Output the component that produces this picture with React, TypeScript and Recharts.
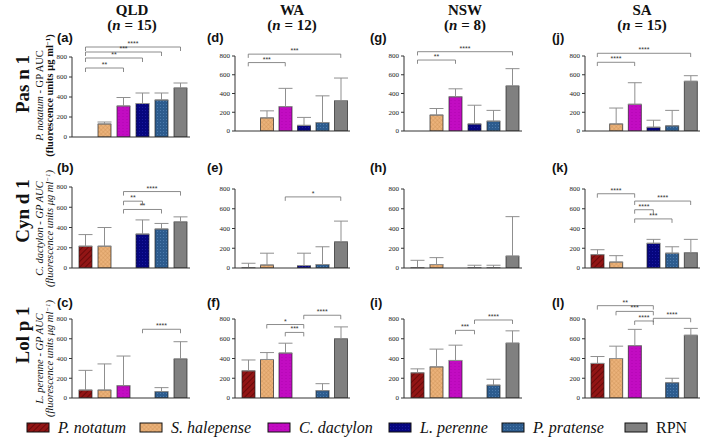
import React from 'react'
import { BarChart, Bar, XAxis, YAxis, Cell, ErrorBar, ReferenceLine } from 'recharts'

// ── Data ──────────────────────────────────────────────────────────────────────

const SPECIES = ['P. notatum', 'S. halepense', 'C. dactylon', 'L. perenne', 'P. pratense', 'RPN']
const CATEGORIES = ['c0', 'c1', 'c2', 'c3', 'c4', 'c5']
const REGIONS = ['QLD', 'WA', 'NSW', 'SA']
const REGION_N = [15, 12, 8, 15]
const ALLERGENS = ['Pas n 1', 'Cyn d 1', 'Lol p 1']
const ALLERGEN_SOURCE = ['P. notatum', 'C. dactylon', 'L. perenne']
const Y_TICKS = [0, 200, 400, 600, 800]

// Pas n 1
const PAS_QLD_MEAN = [0, 130, 310, 335, 370, 490]
const PAS_QLD_SD = [0, 20, 85, 105, 70, 50]
const PAS_WA_MEAN = [0, 140, 260, 60, 90, 325]
const PAS_WA_SD = [0, 75, 195, 85, 285, 240]
const PAS_NSW_MEAN = [0, 170, 365, 75, 105, 480]
const PAS_NSW_SD = [0, 70, 85, 200, 115, 185]
const PAS_SA_MEAN = [0, 75, 285, 40, 55, 530]
const PAS_SA_SD = [0, 170, 230, 75, 165, 60]

// Cyn d 1
const CYN_QLD_MEAN = [215, 215, 0, 335, 385, 455]
const CYN_QLD_SD = [115, 185, 0, 140, 55, 50]
const CYN_WA_MEAN = [3, 30, 0, 25, 35, 265]
const CYN_WA_SD = [45, 120, 0, 125, 180, 210]
const CYN_NSW_MEAN = [3, 35, 0, 3, 3, 120]
const CYN_NSW_SD = [75, 70, 0, 25, 25, 400]
const CYN_SA_MEAN = [135, 60, 0, 250, 150, 155]
const CYN_SA_SD = [50, 65, 0, 40, 65, 135]

// Lol p 1
const LOL_QLD_MEAN = [80, 80, 125, 0, 65, 395]
const LOL_QLD_SD = [200, 265, 300, 0, 40, 175]
const LOL_WA_MEAN = [275, 390, 455, 0, 75, 600]
const LOL_WA_SD = [110, 70, 100, 0, 70, 120]
const LOL_NSW_MEAN = [255, 315, 380, 0, 130, 555]
const LOL_NSW_SD = [40, 180, 155, 0, 60, 125]
const LOL_SA_MEAN = [350, 400, 530, 0, 155, 635]
const LOL_SA_SD = [70, 125, 165, 0, 45, 70]

// significance brackets: [from, to, level, stars]
type Sig = [number, number, number, string]
const PAS_QLD_SIG: Sig[] = [[0, 2, 690, '**'], [0, 3, 790, '**'], [0, 4, 850, '***'], [0, 5, 900, '****']]
const PAS_WA_SIG: Sig[] = [[0, 2, 730, '***'], [0, 5, 820, '***']]
const PAS_NSW_SIG: Sig[] = [[0, 2, 757, '**'], [0, 5, 846, '****']]
const PAS_SA_SIG: Sig[] = [[0, 2, 733, '****'], [0, 5, 829, '****']]
const CYN_QLD_SIG: Sig[] = [[2, 4, 578, '**'], [2, 3, 660, '**'], [2, 5, 755, '****']]
const CYN_WA_SIG: Sig[] = [[2, 5, 720, '*']]
const CYN_NSW_SIG: Sig[] = []
const CYN_SA_SIG: Sig[] = [[0, 2, 752, '****'], [2, 5, 678, '****'], [2, 3, 590, '****'], [2, 4, 497, '***']]
const LOL_QLD_SIG: Sig[] = [[3, 5, 696, '****']]
const LOL_WA_SIG: Sig[] = [[1, 3, 744, '*'], [2, 3, 664, '***'], [3, 5, 838, '****']]
const LOL_NSW_SIG: Sig[] = [[2, 3, 685, '***'], [3, 5, 790, '****']]
const LOL_SA_SIG: Sig[] = [[0, 3, 935, '**'], [1, 3, 877, '***'], [2, 3, 780, '****'], [3, 5, 807, '****']]

const GRID = [
  [
    { letter: 'a', mean: PAS_QLD_MEAN, sd: PAS_QLD_SD, sig: PAS_QLD_SIG },
    { letter: 'd', mean: PAS_WA_MEAN, sd: PAS_WA_SD, sig: PAS_WA_SIG },
    { letter: 'g', mean: PAS_NSW_MEAN, sd: PAS_NSW_SD, sig: PAS_NSW_SIG },
    { letter: 'j', mean: PAS_SA_MEAN, sd: PAS_SA_SD, sig: PAS_SA_SIG },
  ],
  [
    { letter: 'b', mean: CYN_QLD_MEAN, sd: CYN_QLD_SD, sig: CYN_QLD_SIG },
    { letter: 'e', mean: CYN_WA_MEAN, sd: CYN_WA_SD, sig: CYN_WA_SIG },
    { letter: 'h', mean: CYN_NSW_MEAN, sd: CYN_NSW_SD, sig: CYN_NSW_SIG },
    { letter: 'k', mean: CYN_SA_MEAN, sd: CYN_SA_SD, sig: CYN_SA_SIG },
  ],
  [
    { letter: 'c', mean: LOL_QLD_MEAN, sd: LOL_QLD_SD, sig: LOL_QLD_SIG },
    { letter: 'f', mean: LOL_WA_MEAN, sd: LOL_WA_SD, sig: LOL_WA_SIG },
    { letter: 'i', mean: LOL_NSW_MEAN, sd: LOL_NSW_SD, sig: LOL_NSW_SIG },
    { letter: 'l', mean: LOL_SA_MEAN, sd: LOL_SA_SD, sig: LOL_SA_SIG },
  ],
]

// ── Layout ────────────────────────────────────────────────────────────────────

const SERIF = '"Liberation Serif", "DejaVu Serif", serif'
const SANS = '"Liberation Sans", Arial, sans-serif'

// [axis x, axis end x, left padding]
const COL_X = [[72, 190, 4], [235, 350, 4], [404, 522, 4], [585, 700, 3]]
// [y of 800, y of 0]
const ROW_Y = [[56, 131], [189, 268], [319, 398]]
const COL_CENTER = [132, 292, 465, 642]
const LETTER_X = [57, 207, 370, 552]
const LETTER_Y = [42, 172, 307]
const ROW_LABEL_Y = [84, 211, 335]

const FILLS = ['url(#pNot)', 'url(#sHal)', 'url(#cDac)', 'url(#lPer)', 'url(#pPra)', '#808080']
const LEGEND_X = [27, 140, 268, 389, 502, 625]

const YW = 26
const MT = 34
const XH = 6

function Panel({ left, right, pad, top, bottom, mean, sd, sig }: {
  left: number; right: number; pad: number; top: number; bottom: number
  mean: number[]; sd: number[]; sig: Sig[]
}) {
  const data = CATEGORIES.map((c, i) => ({ name: c, mean: mean[i], err: [0, sd[i]] }))
  const plotW = right - left
  const plotH = bottom - top
  const line = { stroke: '#6e6e6e', strokeWidth: 0.8, ifOverflow: 'visible' as const }
  return (
    <div style={{ position: 'absolute', left: left - YW, top: top - MT }}>
      <BarChart width={YW + plotW + 2} height={MT + plotH + XH} data={data}
        margin={{ top: MT, right: 2, left: 0, bottom: 0 }} barSize={13}>
        <XAxis dataKey="name" tick={false} tickSize={3} height={XH} stroke="#333"
          padding={{ left: pad, right: 0 }} />
        <YAxis domain={[0, 800]} ticks={Y_TICKS} interval={0} width={YW} tickSize={3} stroke="#333"
          allowDataOverflow tick={{ fontSize: 7, fill: '#222', fontFamily: SERIF }} />
        <Bar dataKey="mean" isAnimationActive={false} stroke="#222" strokeWidth={0.7}>
          {data.map((d, i) => <Cell key={`cell-${i}`} fill={FILLS[i]} />)}
          <ErrorBar dataKey="err" width={7} stroke="#8f8f8f" strokeWidth={1} direction="y" />
        </Bar>
        {sig.map(([a, b, lvl, stars], k) => (
          <React.Fragment key={`sig-${k}`}>
            <ReferenceLine {...line}
              segment={[{ x: CATEGORIES[a], y: lvl }, { x: CATEGORIES[b], y: lvl }]}
              label={{ value: stars, position: 'top', offset: 1, fontSize: 7, fill: '#333', fontFamily: SANS }} />
            <ReferenceLine {...line}
              segment={[{ x: CATEGORIES[a], y: lvl }, { x: CATEGORIES[a], y: lvl - 40 }]} />
            <ReferenceLine {...line}
              segment={[{ x: CATEGORIES[b], y: lvl }, { x: CATEGORIES[b], y: lvl - 40 }]} />
          </React.Fragment>
        ))}
      </BarChart>
    </div>
  )
}

function Overlay() {
  return (
    <svg width={709} height={442} style={{ position: 'absolute', left: 0, top: 0 }}>
      <defs>
        <pattern id="pNot" width="4" height="4" patternUnits="userSpaceOnUse" patternTransform="rotate(45)">
          <rect width="4" height="4" fill="#921515" />
          <line x1="0" y1="0" x2="0" y2="4" stroke="#5e0606" strokeWidth="1.6" />
        </pattern>
        <pattern id="sHal" width="3" height="3" patternUnits="userSpaceOnUse" patternTransform="rotate(45)">
          <rect width="3" height="3" fill="#ebb27a" />
          <path d="M0 0 H3 M0 0 V3" stroke="#c4884e" strokeWidth="0.6" />
        </pattern>
        <pattern id="cDac" width="4" height="3" patternUnits="userSpaceOnUse">
          <rect width="4" height="3" fill="#c20cc2" />
          <line x1="0" y1="0" x2="2" y2="0" stroke="#a400a4" strokeWidth="0.6" />
        </pattern>
        <pattern id="lPer" width="3" height="3" patternUnits="userSpaceOnUse">
          <rect width="3" height="3" fill="#06067e" />
          <rect width="1" height="1" fill="#1a1aa0" />
        </pattern>
        <pattern id="pPra" width="3" height="3" patternUnits="userSpaceOnUse">
          <rect width="3" height="3" fill="#2d5c8e" />
          <rect width="1" height="1" fill="#4d7cae" />
        </pattern>
      </defs>

      {REGIONS.map((r, i) => (
        <g key={r} fontFamily={SERIF} fontWeight="bold" fontSize={15} textAnchor="middle" fill="#111">
          <text x={COL_CENTER[i]} y={15}>{r}</text>
          <text x={COL_CENTER[i]} y={30}>(<tspan fontStyle="italic">n</tspan> = {REGION_N[i]})</text>
        </g>
      ))}

      {ALLERGENS.map((a, i) => (
        <text key={a} transform={`translate(29,${ROW_LABEL_Y[i]}) rotate(-90)`} textAnchor="middle"
          fontFamily={SERIF} fontWeight="bold" fontSize={19} fill="#111">{a}</text>
      ))}

      {ALLERGEN_SOURCE.map((s, i) => {
        const cy = (ROW_Y[i][0] + ROW_Y[i][1]) / 2 + (i === 0 ? 2 : 0)
        return (
          <g key={s} fontFamily={SERIF} fontSize={10.5} fill="#111" textAnchor="middle">
            <text transform={`translate(43,${cy}) rotate(-90)`} fontStyle={i === 0 ? 'normal' : 'italic'}>
              <tspan fontStyle="italic">{s}</tspan> - GP AUC
            </text>
            <text transform={`translate(53,${cy}) rotate(-90)`} fontStyle={i === 0 ? 'normal' : 'italic'}
              fontWeight={i === 0 ? 'bold' : 'normal'}>
              (fluorescence units μg ml<tspan dy={-3} fontSize={7}>−1</tspan><tspan dy={3}>)</tspan>
            </text>
          </g>
        )
      })}

      {GRID.map((row, r) => row.map((p, c) => (
        <text key={p.letter} x={LETTER_X[c]} y={LETTER_Y[r]} fontFamily={SANS} fontWeight="bold"
          fontSize={13} fill="#111">({p.letter})</text>
      )))}

      {SPECIES.map((s, i) => (
        <g key={s}>
          <rect x={LEGEND_X[i]} y={423} width={22} height={9} fill={FILLS[i]} stroke="#111" strokeWidth={1} />
          <text x={LEGEND_X[i] + 31} y={433} fontFamily={SERIF} fontSize={16}
            fontStyle={s === 'RPN' ? 'normal' : 'italic'} fill="#111">{s}</text>
        </g>
      ))}
    </svg>
  )
}

export default function App() {
  return (
    <div style={{ position: 'absolute', left: 0, top: 0, width: 709, height: 442, background: '#fff' }}>
      <Overlay />
      {GRID.map((row, r) => row.map((p, c) => {
        let [top, bottom] = ROW_Y[r]
        if (p.letter === 'a') { top = 57; bottom = 137 }
        if (p.letter === 'b') { top = 187 }
        return (
          <Panel key={p.letter} left={COL_X[c][0]} right={COL_X[c][1]} pad={COL_X[c][2]}
            top={top} bottom={bottom} mean={p.mean} sd={p.sd} sig={p.sig} />
        )
      }))}
    </div>
  )
}
